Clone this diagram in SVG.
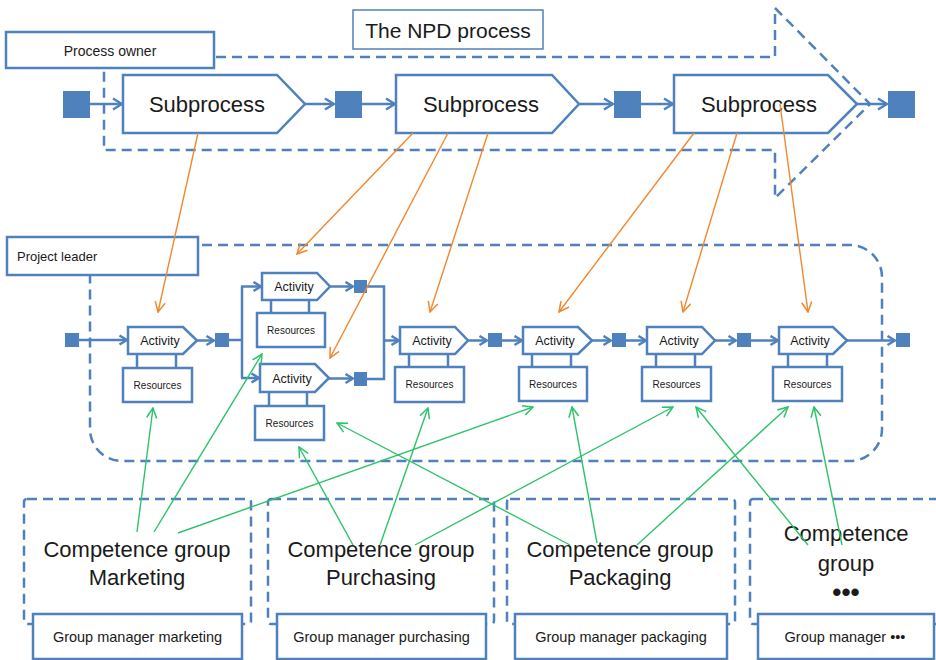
<svg xmlns="http://www.w3.org/2000/svg" width="936" height="660" viewBox="0 0 936 660">
<style>
text{font-family:"Liberation Sans",Arial,sans-serif;fill:#1a1a1a;text-anchor:middle;dominant-baseline:central}
.box{fill:#fff;stroke:#4F81BD;stroke-width:2.5}
.thin{fill:#fff;stroke:#4F81BD;stroke-width:1.5}
.dash{fill:none;stroke:#4F81BD;stroke-width:2.5;stroke-dasharray:10 6}
.sq{fill:#4F81BD}
.flow{fill:none;stroke:#4F81BD;stroke-width:2.5}
.or{fill:none;stroke:#F0882F;stroke-width:1.4}
.gr{fill:none;stroke:#2DC36A;stroke-width:1.4}
.big{font-size:22px}
.act{font-size:12.5px}
.res{font-size:10px}
.gm{font-size:14.5px}
</style>
<defs>
<marker id="mb" viewBox="0 0 12 14" refX="11" refY="7" markerWidth="12" markerHeight="14" markerUnits="userSpaceOnUse" orient="auto"><path d="M2,1.5 L11,7 L2,12.5" fill="none" stroke="#4F81BD" stroke-width="2.5"/></marker>
<marker id="ms" viewBox="0 0 10 12" refX="9" refY="6" markerWidth="10" markerHeight="12" markerUnits="userSpaceOnUse" orient="auto"><path d="M1.5,1.5 L9,6 L1.5,10.5" fill="none" stroke="#4F81BD" stroke-width="2.5"/></marker>
<marker id="mo" viewBox="0 0 12 12" refX="11" refY="6" markerWidth="12" markerHeight="12" markerUnits="userSpaceOnUse" orient="auto"><path d="M1,1 L11,6 L1,11" fill="none" stroke="#F0882F" stroke-width="1.5"/></marker>
<marker id="mg" viewBox="0 0 12 12" refX="11" refY="6" markerWidth="12" markerHeight="12" markerUnits="userSpaceOnUse" orient="auto"><path d="M1,1 L11,6 L1,11" fill="none" stroke="#2DC36A" stroke-width="1.5"/></marker>
</defs>
<rect width="936" height="660" fill="#fff"/>

<!-- NPD process container -->
<g id="npd-process">
<polygon class="dash" points="104,57 775,57 775,8 870,104 775,198 775,150 104,150"/>
<rect class="thin" x="353" y="10" width="190" height="39"/>
<text x="448" y="30" style="font-size:21px">The NPD process</text>
</g>
<g id="process-owner">
<rect class="box" x="6" y="32" width="208" height="36"/>
<text x="110" y="51" style="font-size:14px">Process owner</text>
</g>

<g id="sq-p0"><rect class="sq" x="63" y="91" width="27" height="27"/></g>
<g id="subprocess-1"><polygon class="box" points="123,75 277,75 305,104 277,133 123,133"/><text class="big" x="207" y="104">Subprocess</text></g>
<g id="sq-p1"><rect class="sq" x="335" y="91" width="27" height="27"/></g>
<g id="subprocess-2"><polygon class="box" points="396,75 552,75 579,104 552,133 396,133"/><text class="big" x="481" y="104">Subprocess</text></g>
<g id="sq-p2"><rect class="sq" x="614" y="91" width="27" height="27"/></g>
<g id="subprocess-3"><polygon class="box" points="674,75 828,75 857,104 828,133 674,133"/><text class="big" x="759" y="104">Subprocess</text></g>
<g id="sq-p3"><rect class="sq" x="888" y="91" width="27" height="27"/></g>

<!-- Project container -->
<g id="project">
<rect class="dash" x="90" y="245" width="792" height="216" rx="32"/>
</g>
<g id="project-leader">
<rect class="box" x="7" y="237" width="191" height="38"/>
<text x="17" y="256" style="font-size:13px;text-anchor:start">Project leader</text>
</g>

<g id="sq-a0"><rect class="sq" x="65" y="333" width="14" height="14"/></g>
<g id="activity-1">
<path class="flow" d="M137,354 V368 M176,354 V368"/>
<polygon class="box" points="128,327 183,327 197,340.5 183,354 128,354"/><text class="act" x="160" y="341">Activity</text>
<rect class="box" x="123" y="368" width="69" height="34"/><text class="res" x="157.5" y="385">Resources</text>
</g>
<g id="sq-a1"><rect class="sq" x="215" y="333" width="14" height="14"/></g>
<g id="activity-2a">
<path class="flow" d="M271,300 V313 M309,300 V313"/>
<polygon class="box" points="262,273 317,273 330,286.5 317,300 262,300"/><text class="act" x="294" y="287">Activity</text>
<rect class="box" x="257" y="313" width="68" height="34"/><text class="res" x="291" y="330">Resources</text>
</g>
<g id="sq-a2a"><rect class="sq" x="354" y="280" width="13" height="13"/></g>
<g id="activity-2b">
<path class="flow" d="M269,392 V406 M307,392 V406"/>
<polygon class="box" points="260,364 315,364 329,378 315,392 260,392"/><text class="act" x="292" y="378.5">Activity</text>
<rect class="box" x="255" y="406" width="69" height="34"/><text class="res" x="289.5" y="423">Resources</text>
</g>
<g id="sq-a2b"><rect class="sq" x="354" y="372" width="13" height="14"/></g>
<g id="activity-3">
<path class="flow" d="M409,354 V368 M448,354 V368"/>
<polygon class="box" points="400,327 455,327 468,340.5 455,354 400,354"/><text class="act" x="432" y="341">Activity</text>
<rect class="box" x="395" y="367" width="69" height="35"/><text class="res" x="429.5" y="384.5">Resources</text>
</g>
<g id="sq-a3"><rect class="sq" x="488" y="333" width="14" height="14"/></g>
<g id="activity-4">
<path class="flow" d="M532,354 V367 M571,354 V367"/>
<polygon class="box" points="523,327 578,327 592,340.5 578,354 523,354"/><text class="act" x="555" y="341">Activity</text>
<rect class="box" x="519" y="367" width="68" height="34"/><text class="res" x="553" y="384">Resources</text>
</g>
<g id="sq-a4"><rect class="sq" x="612" y="333" width="14" height="14"/></g>
<g id="activity-5">
<path class="flow" d="M656,354 V367 M695,354 V367"/>
<polygon class="box" points="647,327 702,327 715,340.5 702,354 647,354"/><text class="act" x="679" y="341">Activity</text>
<rect class="box" x="642" y="367" width="69" height="34"/><text class="res" x="676.5" y="384">Resources</text>
</g>
<g id="sq-a5"><rect class="sq" x="737" y="333" width="14" height="14"/></g>
<g id="activity-6">
<path class="flow" d="M788,354 V367 M827,354 V367"/>
<polygon class="box" points="779,327 833,327 847,340.5 833,354 779,354"/><text class="act" x="810" y="341">Activity</text>
<rect class="box" x="773" y="367" width="69" height="34"/><text class="res" x="807.5" y="384">Resources</text>
</g>
<g id="sq-a6"><rect class="sq" x="896" y="333" width="14" height="14"/></g>

<!-- Competence groups -->
<g id="group-marketing">
<rect class="dash" x="24" y="499" width="227" height="125" rx="3"/>
<text class="big" x="137" y="549">Competence group</text>
<text class="big" x="137" y="577">Marketing</text>
<rect class="box" x="33" y="614" width="209" height="45"/>
<text class="gm" x="137.5" y="637">Group manager marketing</text>
</g>
<g id="group-purchasing">
<rect class="dash" x="268" y="499" width="226" height="125" rx="3"/>
<text class="big" x="381" y="549">Competence group</text>
<text class="big" x="381" y="577">Purchasing</text>
<rect class="box" x="277" y="614" width="209" height="45"/>
<text class="gm" x="381.5" y="637">Group manager purchasing</text>
</g>
<g id="group-packaging">
<rect class="dash" x="507" y="499" width="228" height="125" rx="3"/>
<text class="big" x="620" y="549">Competence group</text>
<text class="big" x="620" y="577">Packaging</text>
<rect class="box" x="515" y="614" width="212" height="45"/>
<text class="gm" x="621" y="637">Group manager packaging</text>
</g>
<g id="group-other">
<rect class="dash" x="750" y="499" width="210" height="125" rx="3"/>
<text class="big" x="846" y="533">Competence</text>
<text class="big" x="846" y="563">group</text>
<text x="846" y="592" style="font-size:26px;font-weight:bold">•••</text>
<rect class="box" x="758" y="614" width="176" height="45"/>
<text class="gm" x="845" y="637">Group manager •••</text>
</g>

<g id="connectors">
<!-- top flow -->
<path class="flow" marker-end="url(#mb)" d="M90,104 H122"/>
<path class="flow" marker-end="url(#mb)" d="M305,104 H334"/>
<path class="flow" marker-end="url(#mb)" d="M362,104 H395"/>
<path class="flow" marker-end="url(#mb)" d="M579,104 H613"/>
<path class="flow" marker-end="url(#mb)" d="M641,104 H673"/>
<path class="flow" marker-end="url(#mb)" d="M857,104 H887"/>
<!-- middle flow -->
<path class="flow" marker-end="url(#ms)" d="M79,340 H127"/>
<path class="flow" marker-end="url(#ms)" d="M197,340.5 H214"/>
<path class="flow" d="M229,340 H242 M242,286.5 V378"/>
<path class="flow" marker-end="url(#ms)" d="M241,286.5 H261"/>
<path class="flow" marker-end="url(#ms)" d="M241,378 H259"/>
<path class="flow" marker-end="url(#ms)" d="M330,286.5 H353"/>
<path class="flow" marker-end="url(#ms)" d="M329,378.5 H353"/>
<path class="flow" d="M367,286.5 H384 V379 H367"/>
<path class="flow" marker-end="url(#ms)" d="M384,340.5 H399"/>
<path class="flow" marker-end="url(#ms)" d="M468,340.5 H487"/>
<path class="flow" marker-end="url(#ms)" d="M502,340.5 H522"/>
<path class="flow" marker-end="url(#ms)" d="M592,340.5 H611"/>
<path class="flow" marker-end="url(#ms)" d="M626,340.5 H646"/>
<path class="flow" marker-end="url(#ms)" d="M715,340.5 H736"/>
<path class="flow" marker-end="url(#ms)" d="M751,340.5 H778"/>
<path class="flow" marker-end="url(#ms)" d="M847,340.5 H895"/>
<!-- orange: subprocess to activity -->
<path class="or" marker-end="url(#mo)" d="M198,133 L158,312"/>
<path class="or" marker-end="url(#mo)" d="M413,133 L297,254"/>
<path class="or" marker-end="url(#mo)" d="M448,133 L330,358"/>
<path class="or" marker-end="url(#mo)" d="M488,133 L430,312"/>
<path class="or" marker-end="url(#mo)" d="M694,133 L559,312"/>
<path class="or" marker-end="url(#mo)" d="M737,133 L683,312"/>
<path class="or" marker-end="url(#mo)" d="M780,104 L808,312"/>
<!-- green: competence group to resources -->
<path class="gr" marker-end="url(#mg)" d="M137,532 L153,408"/>
<path class="gr" marker-end="url(#mg)" d="M154,532 L262,354"/>
<path class="gr" marker-end="url(#mg)" d="M178,533 L533,407"/>
<path class="gr" marker-end="url(#mg)" d="M353,545 L299,447"/>
<path class="gr" marker-end="url(#mg)" d="M380,545 L428,408"/>
<path class="gr" marker-end="url(#mg)" d="M415,545 L673,407"/>
<path class="gr" marker-end="url(#mg)" d="M570,545 L337,423"/>
<path class="gr" marker-end="url(#mg)" d="M597,543 L572,407"/>
<path class="gr" marker-end="url(#mg)" d="M637,545 L788,407"/>
<path class="gr" marker-end="url(#mg)" d="M808,545 L696,407"/>
<path class="gr" marker-end="url(#mg)" d="M842,545 L814,407"/>
</g>
</svg>
